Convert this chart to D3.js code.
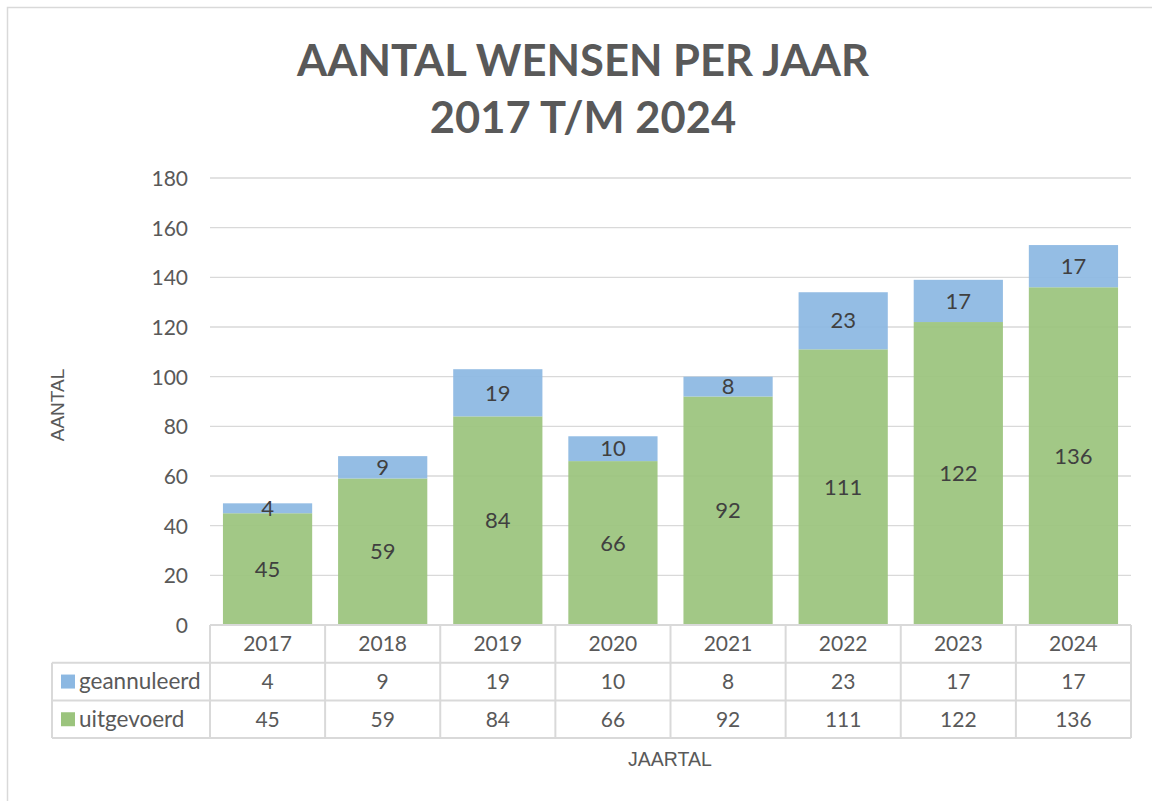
<!DOCTYPE html>
<html>
<head>
<meta charset="utf-8">
<script src="https://cdn.jsdelivr.net/npm/d3@7"></script>
<style>
  body { margin: 0; background: #fff; }
  svg { display: block; }
  text { font-family: Lato, "Open Sans", sans-serif; fill: #595959; }
</style>
</head>
<body>
<div id="chart"></div>
<script>
const years = ["2017", "2018", "2019", "2020", "2021", "2022", "2023", "2024"];
const uitgevoerd = [45, 59, 84, 66, 92, 111, 122, 136];
const geannuleerd = [4, 9, 19, 10, 8, 23, 17, 17];
const yTicks = [0, 20, 40, 60, 80, 100, 120, 140, 160, 180];

const series = [
  { key: "uitgevoerd", values: uitgevoerd, color: "#9bc47d" },
  { key: "geannuleerd", values: geannuleerd, color: "#8cb8e2" }
];
// table rows are listed top-down in the reverse order
const tableRows = [series[1], series[0]];

const W = 1152, H = 801;
const plot = { left: 210, right: 1131, top: 178, bottom: 625 };
const rowH = 37.7;

const svg = d3.select("#chart").append("svg")
  .attr("width", W)
  .attr("height", H);

// outer chart border
svg.append("rect")
  .attr("x", 7.5).attr("y", 7.5)
  .attr("width", W + 10).attr("height", H + 10)
  .attr("fill", "#fff")
  .attr("stroke", "#d9d9d9")
  .attr("stroke-width", 1.5);

const x = d3.scaleBand()
  .domain(years)
  .range([plot.left, plot.right])
  .paddingInner(0.225)
  .paddingOuter(0.1125);

const xCol = d3.scaleBand()
  .domain(years)
  .range([plot.left, plot.right]);

const y = d3.scaleLinear()
  .domain([0, 180])
  .range([plot.bottom, plot.top]);

// title
const title = svg.append("text")
  .attr("x", 583)
  .attr("text-anchor", "middle")
  .style("font-weight", "bold")
  .style("font-size", "43.5px")
  .style("fill", "#595959");
title.append("tspan").attr("x", 583).attr("y", 76).text("AANTAL WENSEN PER JAAR");
title.append("tspan").attr("x", 583).attr("y", 133).text("2017 T/M 2024");

// gridlines
svg.append("g")
  .selectAll("line")
  .data(yTicks.filter(d => d > 0))
  .join("line")
  .attr("x1", plot.left).attr("x2", plot.right)
  .attr("y1", d => y(d)).attr("y2", d => y(d))
  .attr("stroke", "#d9d9d9")
  .attr("stroke-width", 1.3);

// y axis labels
const yAxis = svg.append("g")
  .attr("transform", `translate(${plot.left - 22},0)`)
  .call(d3.axisLeft(y).tickValues(yTicks).tickSize(0).tickPadding(0));
yAxis.select(".domain").remove();
yAxis.selectAll("text")
  .style("font-family", "Lato, sans-serif")
  .style("font-size", "21px")
  .attr("fill", "#595959")
  .attr("dy", "0.35em");

// stacked bars
const stacked = years.map((yr, i) => {
  let base = 0;
  return series.map(s => {
    const seg = { year: yr, key: s.key, y0: base, y1: base + s.values[i], v: s.values[i], color: s.color };
    base += s.values[i];
    return seg;
  });
}).flat();

svg.append("g")
  .selectAll("rect")
  .data(stacked)
  .join("rect")
  .attr("x", d => x(d.year))
  .attr("width", x.bandwidth())
  .attr("y", d => y(d.y1))
  .attr("height", d => y(d.y0) - y(d.y1))
  .attr("fill", d => d.color)
  .attr("fill-opacity", 0.93);

svg.append("g")
  .selectAll("text")
  .data(stacked)
  .join("text")
  .attr("x", d => x(d.year) + x.bandwidth() / 2)
  .attr("y", d => (y(d.y0) + y(d.y1)) / 2)
  .attr("dy", "0.35em")
  .attr("text-anchor", "middle")
  .style("font-size", "22px")
  .style("fill", "#404040")
  .text(d => d.v);

// data table
const table = svg.append("g");
const lineColor = "#d9d9d9";
const tLeft = 52;
const tTop = plot.bottom;

// header row cells
table.selectAll(".hdr")
  .data(years)
  .join("text")
  .attr("class", "hdr")
  .attr("x", d => xCol(d) + xCol.bandwidth() / 2)
  .attr("y", tTop + rowH / 2)
  .attr("dy", "0.35em")
  .attr("text-anchor", "middle")
  .style("font-size", "21px")
  .text(d => d);

tableRows.forEach((s, r) => {
  const rowY = tTop + rowH * (r + 1);
  table.append("rect")
    .attr("x", 61).attr("y", rowY + rowH / 2 - 7)
    .attr("width", 14).attr("height", 14)
    .attr("fill", s.color);
  table.append("text")
    .attr("x", 79).attr("y", rowY + rowH / 2)
    .attr("dy", "0.35em")
    .style("font-size", "22.5px")
    .text(s.key);
  table.selectAll(".cell-" + s.key)
    .data(s.values)
    .join("text")
    .attr("x", (d, i) => xCol(years[i]) + xCol.bandwidth() / 2)
    .attr("y", rowY + rowH / 2)
    .attr("dy", "0.35em")
    .attr("text-anchor", "middle")
    .style("font-size", "21px")
    .text(d => d);
});

// table grid lines
const hLines = [
  { y: tTop, x1: plot.left, x2: plot.right },
  { y: tTop + rowH, x1: tLeft, x2: plot.right },
  { y: tTop + rowH * 2, x1: tLeft, x2: plot.right },
  { y: tTop + rowH * 3, x1: tLeft, x2: plot.right }
];
table.selectAll(".hl")
  .data(hLines)
  .join("line")
  .attr("x1", d => d.x1).attr("x2", d => d.x2)
  .attr("y1", d => d.y).attr("y2", d => d.y)
  .attr("stroke", lineColor).attr("stroke-width", 2);

const vLines = years.map(yr => xCol(yr)).concat([plot.right]);
table.selectAll(".vl")
  .data(vLines)
  .join("line")
  .attr("x1", d => d).attr("x2", d => d)
  .attr("y1", tTop).attr("y2", tTop + rowH * 3)
  .attr("stroke", lineColor).attr("stroke-width", 2);
table.append("line")
  .attr("x1", tLeft).attr("x2", tLeft)
  .attr("y1", tTop + rowH).attr("y2", tTop + rowH * 3)
  .attr("stroke", lineColor).attr("stroke-width", 2);

// axis titles
svg.append("text")
  .attr("transform", "translate(64,405) rotate(-90)")
  .attr("text-anchor", "middle")
  .style("font-family", "'Liberation Sans', Arial, sans-serif")
  .style("font-size", "19px")
  .text("AANTAL");

svg.append("text")
  .attr("x", 670).attr("y", 766)
  .attr("text-anchor", "middle")
  .style("font-family", "'Liberation Sans', Arial, sans-serif")
  .style("font-size", "19.5px")
  .text("JAARTAL");
</script>
</body>
</html>
